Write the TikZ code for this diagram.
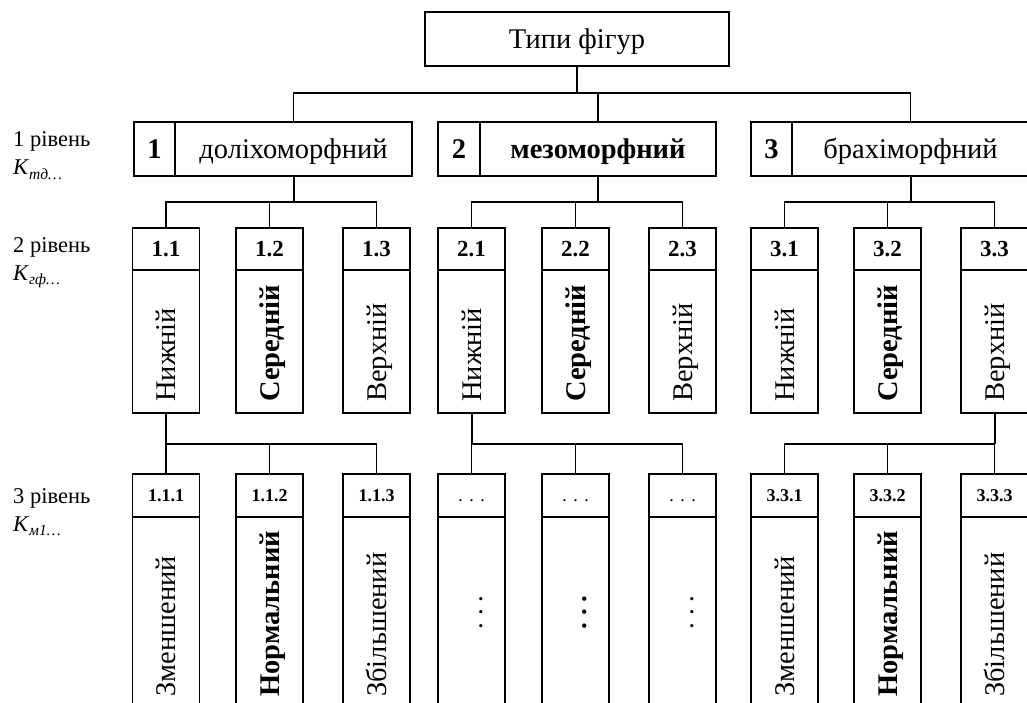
\documentclass[tikz,border=0pt]{standalone}
\usepackage{fontspec}
\setmainfont{Liberation Serif}
\newcommand\tdots{.\hspace{6.5pt}.\hspace{6.5pt}.}
\begin{document}
\begin{tikzpicture}[x=1pt,y=-1pt,
  box/.style={draw,line width=1.3pt,rectangle,inner sep=0pt,text depth=0pt,align=center},
  big/.style={font=\fontsize{28.5}{31}\selectfont,text height=19pt},
  bigb/.style={font=\fontsize{28.5}{31}\selectfont\bfseries,text height=19pt},
  hdrtwo/.style={font=\fontsize{23}{25}\selectfont\bfseries,text height=15.5pt},
  hdrthree/.style={font=\fontsize{18}{20}\selectfont\bfseries,text height=12pt},
  side/.style={anchor=base west,inner sep=0pt,font=\fontsize{22.5}{24}\selectfont},
  vert/.style={rotate=90,anchor=base west,inner sep=0pt},
  conn/.style={line width=1.4pt},
  stub/.style={line width=2pt}]
\useasboundingbox (0,0) rectangle (1027,703);
\clip (0,0) rectangle (1027,703);

% top
\node[box,big,minimum width=304pt,minimum height=54pt] (top) at (577,39) {Типи фігур};

% level 1
\node[box,bigb,minimum width=41pt,minimum height=54pt] (n1) at (154.5,149) {1};
\node[box,big,minimum width=237pt,minimum height=54pt] (t1) at (293.5,149) {доліхоморфний};
\node[box,bigb,minimum width=42pt,minimum height=54pt] (n2) at (459,149) {2};
\node[box,bigb,minimum width=236pt,minimum height=54pt] (t2) at (598,149) {мезоморфний};
\node[box,bigb,minimum width=41pt,minimum height=54pt] (n3) at (771.5,149) {3};
\node[box,big,minimum width=237pt,minimum height=54pt] (t3) at (910.5,149) {брахіморфний};

% level 2
\foreach \i/\cx/\nm/\word/\fw in {
  11/166/1.1/Нижній/\mdseries, 12/269.5/1.2/Середній/\bfseries, 13/376.5/1.3/Верхній/\mdseries,
  21/471.5/2.1/Нижній/\mdseries, 22/575.5/2.2/Середній/\bfseries, 23/682.5/2.3/Верхній/\mdseries,
  31/784.5/3.1/Нижній/\mdseries, 32/887.5/3.2/Середній/\bfseries, 33/994.5/3.3/Верхній/\mdseries}{
  \node[box,hdrtwo,minimum width=67pt,minimum height=42pt] (h\i) at (\cx,249) {\nm};
  \node[box,minimum width=67pt,minimum height=143pt] (b\i) at (\cx,341.5) {};
  \node[vert,font=\fontsize{28.5}{31}\selectfont\fw] (w\i) at (\cx+9.5,402) {\word};
}

% level 3
\foreach \i/\cx/\nm/\word/\fw in {
  111/166/1.1.1/Зменшений/\mdseries, 112/269.5/1.1.2/Нормальний/\bfseries, 113/376.5/1.1.3/Збільшений/\mdseries,
  331/784.5/3.3.1/Зменшений/\mdseries, 332/887.5/3.3.2/Нормальний/\bfseries, 333/994.5/3.3.3/Збільшений/\mdseries}{
  \node[box,hdrthree,minimum width=67pt,minimum height=43pt] (g\i) at (\cx,495.5) {\nm};
  \node[box,minimum width=67pt,minimum height=191pt] (c\i) at (\cx,612.5) {};
  \node[vert,font=\fontsize{28.5}{31}\selectfont\fw] (v\i) at (\cx+9.5,697) {\word};
}
\foreach \i/\cx/\fw in {211/471.5/\mdseries, 212/575.5/\bfseries, 213/682.5/\mdseries}{
  \node[box,font=\fontsize{18}{20}\selectfont,text height=12pt,minimum width=67pt,minimum height=43pt] (g\i) at (\cx,495.5) {\tdots};
  \node[box,minimum width=67pt,minimum height=191pt] (c\i) at (\cx,612.5) {};
  \node[rotate=90,anchor=base,inner sep=0pt,font=\fontsize{27}{30}\selectfont\fw] (v\i) at (\cx+11,612.5) {\tdots};
}

% side labels
\node[side] (l1) at (13,147) {1 рівень};
\node[side] (k1) at (13,175) {\textit{К}\raisebox{-0.22em}{\fontsize{15.5}{15.5}\selectfont\itshape тд…}};
\node[side] (l2) at (13,252) {2 рівень};
\node[side] (k2) at (13,280) {\textit{К}\raisebox{-0.22em}{\fontsize{15.5}{15.5}\selectfont\itshape гф…}};
\node[side] (l3) at (13,503) {3 рівень};
\node[side] (k3) at (13,531) {\textit{К}\raisebox{-0.22em}{\fontsize{15.5}{15.5}\selectfont\itshape м1…}};

% connectors level 0 -> 1
\coordinate (j0) at (577,93);
\draw[stub] (top.south) -- (j0);
\draw[conn] (t1.north) |- (j0) -| (t3.north);
\draw[conn] (t2.north) -- (t2.north |- j0);

% level 1 -> 2
\coordinate (j1) at (293.5,202);
\coordinate (j2) at (598,202);
\coordinate (j3) at (910.5,202);
\foreach \a in {1,2,3}{
  \draw[stub] (t\a.south) -- (j\a);
  \draw[conn] (h\a1.north) |- (j\a) -| (h\a3.north);
  \draw[conn] (h\a2.north) -- (h\a2.north |- j\a);
}

% level 2 -> 3
\coordinate (q1) at (166,444);
\coordinate (q2) at (471.5,444);
\coordinate (q3) at (994.5,444);
\draw[stub] (b11.south) -- (q1);
\draw[conn] (g111.north) -- (q1) -| (g113.north);
\draw[conn] (g112.north) -- (g112.north |- q1);
\draw[stub] (b21.south) -- (q2);
\draw[conn] (g211.north) -- (q2) -| (g213.north);
\draw[conn] (g212.north) -- (g212.north |- q2);
\draw[stub] (b33.south) -- (q3);
\draw[conn] (g331.north) |- (q3) -- (g333.north);
\draw[conn] (g332.north) -- (g332.north |- q3);
\end{tikzpicture}
\end{document}
